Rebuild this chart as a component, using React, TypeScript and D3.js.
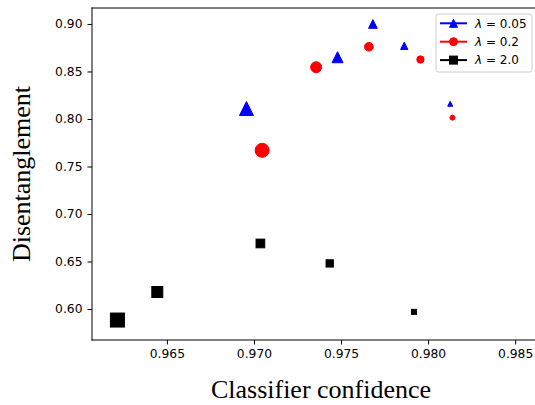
import * as d3 from 'd3';
import { useEffect, useRef } from 'react';

// lambda values for the three series
const lambdas = ['0.05', '0.2', '2.0'];

// classifier confidence (x) and disentanglement (y), one array per series
const confidenceA = [0.96957, 0.9748, 0.97683, 0.97863, 0.98127];
const disentA = [0.811, 0.865, 0.9, 0.877, 0.816];

const confidenceB = [0.97047, 0.97357, 0.9766, 0.97956, 0.9814];
const disentB = [0.767, 0.8545, 0.876, 0.8626, 0.8014];

const confidenceC = [0.96216, 0.96445, 0.97037, 0.97435, 0.97919];
const disentC = [0.5884, 0.6179, 0.669, 0.648, 0.597];

const xTicks = [0.965, 0.97, 0.975, 0.98, 0.985];
const yTicks = [0.6, 0.65, 0.7, 0.75, 0.8, 0.85, 0.9];

// marker size (px) by point order, largest first
const markerSizes = [14, 11, 8.7, 7.3, 5];

export default function App() {
    const ref = useRef<SVGSVGElement>(null);

    const width = 535, height = 405;
    const margin = { left: 92, top: 8, right: 550, bottom: 340 };

    useEffect(() => {
        drawChart();
    }, []);

    function drawChart() {
        const svg = d3.select(ref.current);
        svg.selectAll('*').remove();

        const x = d3.scaleLinear().domain([0.9607, 0.987]).range([margin.left, margin.right]);
        const y = d3.scaleLinear().domain([0.5674, 0.9168]).range([margin.bottom, margin.top]);

        const series = [
            { xs: confidenceA, ys: disentA, color: '#0000ff', shape: 'triangle' },
            { xs: confidenceB, ys: disentB, color: '#ff0000', shape: 'circle' },
            { xs: confidenceC, ys: disentC, color: '#000000', shape: 'square' },
        ];

        function marker(g: any, shape: string, cx: number, cy: number, s: number, color: string) {
            if (shape === 'triangle') {
                g.append('path')
                    .attr('d', `M${cx},${cy - s / 2}L${cx - s / 2},${cy + s / 2}L${cx + s / 2},${cy + s / 2}Z`)
                    .attr('fill', color).attr('stroke', color).attr('stroke-width', 1)
                    .attr('stroke-linejoin', 'miter');
            } else if (shape === 'circle') {
                g.append('circle').attr('cx', cx).attr('cy', cy).attr('r', s / 2)
                    .attr('fill', color).attr('stroke', color).attr('stroke-width', 1);
            } else {
                g.append('rect').attr('x', cx - s / 2).attr('y', cy - s / 2)
                    .attr('width', s).attr('height', s)
                    .attr('fill', color).attr('stroke', color).attr('stroke-width', 1);
            }
        }

        // points
        const pts = svg.append('g');
        series.forEach(sr => {
            sr.xs.forEach((v, i) => {
                marker(pts, sr.shape, x(v), y(sr.ys[i]), markerSizes[i], sr.color);
            });
        });

        // spines (right one falls outside the picture)
        const spines = [
            [margin.left, margin.top, margin.left, margin.bottom],
            [margin.left, margin.bottom, margin.right, margin.bottom],
            [margin.left, margin.top, margin.right, margin.top],
        ];
        svg.append('g').selectAll('line').data(spines).enter().append('line')
            .attr('x1', d => d[0]).attr('y1', d => d[1])
            .attr('x2', d => d[2]).attr('y2', d => d[3])
            .attr('stroke', '#000').attr('stroke-width', 1)
            .attr('stroke-linecap', 'square');

        // X axis
        const xAxis = svg.append('g')
            .attr('transform', 'translate(0,' + margin.bottom + ')')
            .call(d3.axisBottom(x).tickValues(xTicks).tickFormat(d3.format('.3f')).tickSize(4.5).tickPadding(4.5).tickSizeOuter(0));
        xAxis.select('.domain').remove();
        xAxis.selectAll('text').attr('font-family', 'DejaVu Sans').attr('font-size', 12.3).attr('fill', '#000');

        // Y axis
        const yAxis = svg.append('g')
            .attr('transform', 'translate(' + margin.left + ',0)')
            .call(d3.axisLeft(y).tickValues(yTicks).tickFormat(d3.format('.2f')).tickSize(4.5).tickPadding(5).tickSizeOuter(0));
        yAxis.select('.domain').remove();
        yAxis.selectAll('text').attr('font-family', 'DejaVu Sans').attr('font-size', 12.3).attr('fill', '#000');

        // axis labels
        svg.append('text')
            .attr('x', (margin.left + margin.right) / 2)
            .attr('y', 398)
            .attr('text-anchor', 'middle')
            .attr('font-family', 'Liberation Serif')
            .attr('font-size', 26)
            .text('Classifier confidence');

        svg.append('text')
            .attr('transform', 'translate(30,' + (margin.top + margin.bottom) / 2 + ') rotate(-90)')
            .attr('text-anchor', 'middle')
            .attr('font-family', 'Liberation Serif')
            .attr('font-size', 26)
            .text('Disentanglement');

        // legend
        const lg = svg.append('g');
        lg.append('rect')
            .attr('x', 436).attr('y', 14).attr('width', 96).attr('height', 58).attr('rx', 2.5)
            .attr('fill', '#fff').attr('fill-opacity', 0.8)
            .attr('stroke', '#cccccc').attr('stroke-width', 1);
        series.forEach((sr, i) => {
            const ly = 23.3 + i * 18.4;
            lg.append('line')
                .attr('x1', 440).attr('x2', 467).attr('y1', ly).attr('y2', ly)
                .attr('stroke', sr.color).attr('stroke-width', 2);
            marker(lg, sr.shape, 453.5, ly, 8, sr.color);
            const t = lg.append('text')
                .attr('x', 475).attr('y', ly + 4.3)
                .attr('font-family', 'DejaVu Sans').attr('font-size', 12);
            t.append('tspan').attr('font-style', 'italic').text('λ');
            t.append('tspan').text(' = ' + lambdas[i]);
        });
    }

    return (
        <svg ref={ref} width={width} height={height}
            style={{ position: 'absolute', left: 0, top: 0, background: '#fff' }} />
    );
}
